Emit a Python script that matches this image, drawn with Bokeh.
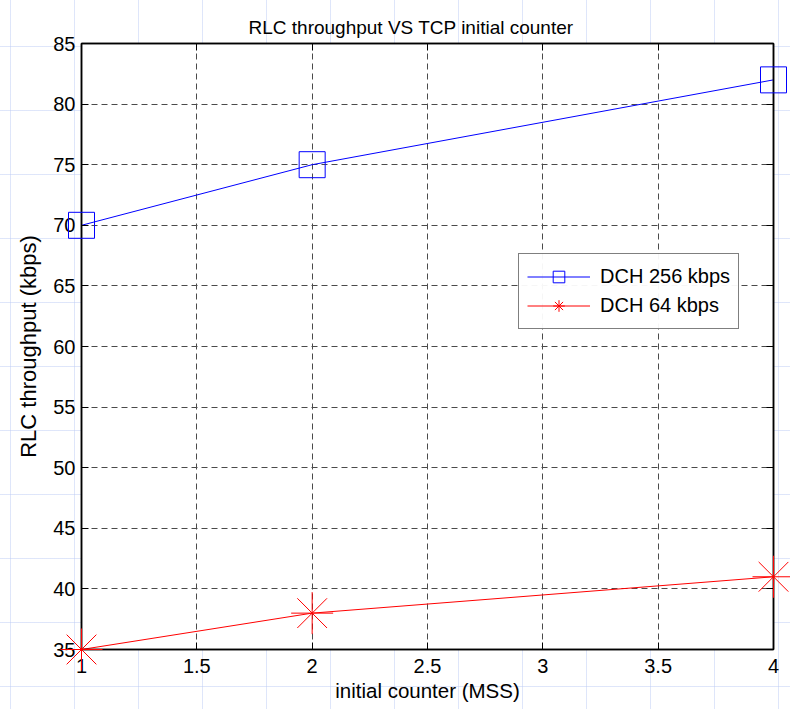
from bokeh.plotting import figure
from bokeh.models import Range1d, FixedTicker, LinearAxis, Legend, LegendItem
from bokeh.embed import file_html
from bokeh.resources import INLINE

# data
counter = [1, 2, 4]
dch256 = [70, 75, 82]
dch64 = [35, 38, 41]
x_ticks = [1, 1.5, 2, 2.5, 3, 3.5, 4]
y_ticks = [35, 40, 45, 50, 55, 60, 65, 70, 75, 80, 85]

FONT = "Liberation Sans"

p = figure(width=790, height=709, output_backend="svg", toolbar_location=None,
           x_range=Range1d(1, 4), y_range=Range1d(35, 85),
           min_border_left=81, min_border_right=17, min_border_top=43, min_border_bottom=60)
p.styles = {
    "background-color": "white",
    "background-image": "linear-gradient(to right, rgba(190,205,245,0.5) 1px, transparent 1px), "
                        "linear-gradient(to bottom, rgba(190,205,245,0.5) 1px, transparent 1px)",
    "background-size": "64px 64px",
    "background-position": "10px 46px",
}
p.border_fill_color = None
p.background_fill_color = "white"
p.outline_line_color = "black"
p.outline_line_width = 1.5

p.title.text = "RLC throughput VS TCP initial counter"
p.title.align = "left"
p.title.offset = 167
p.title.text_font = FONT
p.title.text_font_size = "19px"
p.title.text_font_style = "normal"
p.title.text_color = "black"
p.title.standoff = 12

for ax in (p.xaxis[0], p.yaxis[0]):
    ax.major_label_text_font = FONT
    ax.major_label_text_font_size = "20px"
    ax.major_label_text_color = "black"
    ax.axis_label_text_font = FONT
    ax.axis_label_text_font_style = "normal"
    ax.axis_label_text_color = "black"
    ax.axis_line_color = "black"
    ax.axis_line_width = 1.5
    ax.major_tick_in = 7
    ax.major_tick_out = 0
    ax.minor_tick_line_color = None
    ax.major_tick_line_color = "black"

p.xaxis[0].ticker = FixedTicker(ticks=x_ticks)
p.yaxis[0].ticker = FixedTicker(ticks=y_ticks)
p.xaxis[0].axis_label = "initial counter (MSS)"
p.yaxis[0].axis_label = "RLC throughput (kbps)"
p.xaxis[0].axis_label_text_font_size = "20.5px"
p.yaxis[0].axis_label_text_font_size = "22px"
p.xaxis[0].major_label_standoff = 9
p.yaxis[0].major_label_standoff = 6
p.xaxis[0].axis_label_standoff = 3
p.yaxis[0].axis_label_standoff = 9

# frame ticks on the top and right edges (no labels)
for loc, tk in (("above", x_ticks), ("right", y_ticks)):
    a = LinearAxis(ticker=FixedTicker(ticks=tk), major_label_text_font_size="1px",
                   major_label_text_color=None,
                   major_tick_in=7, major_tick_out=0, minor_tick_line_color=None,
                   major_tick_line_color="black",
                   axis_line_color="black", axis_line_width=1.5, major_label_standoff=0)
    p.add_layout(a, loc)

p.xgrid.ticker = FixedTicker(ticks=x_ticks)
p.ygrid.ticker = FixedTicker(ticks=y_ticks)
for g in (p.xgrid[0], p.ygrid[0]):
    g.grid_line_color = "#4a4a4a"
    g.grid_line_dash = "6 4"
    g.grid_line_width = 1

l1 = p.line(counter, dch256, line_color="blue", line_width=1)
s1 = p.scatter(counter, dch256, marker="square", size=26, fill_color=None,
               line_color="blue", line_width=1)
l2 = p.line(counter, dch64, line_color="red", line_width=1)
s2 = p.scatter(counter, dch64, marker="asterisk", size=42, line_color="red", line_width=1)
for r in (s1, s2):
    r.level = "overlay"

legend = Legend(items=[LegendItem(label="DCH 256 kbps", renderers=[l1, s1]),
                       LegendItem(label="DCH 64 kbps", renderers=[l2, s2])],
                location=(437, 320))
legend.label_text_font = FONT
legend.label_text_font_size = "20px"
legend.label_text_color = "black"
legend.border_line_color = "black"
legend.border_line_width = 1.5
legend.glyph_width = 63
legend.glyph_height = 29
legend.label_height = 29
legend.label_standoff = 10
legend.padding = 8
legend.spacing = 0
legend.margin = 0
p.add_layout(legend)

open("out.html", "w").write(file_html(p, INLINE))
